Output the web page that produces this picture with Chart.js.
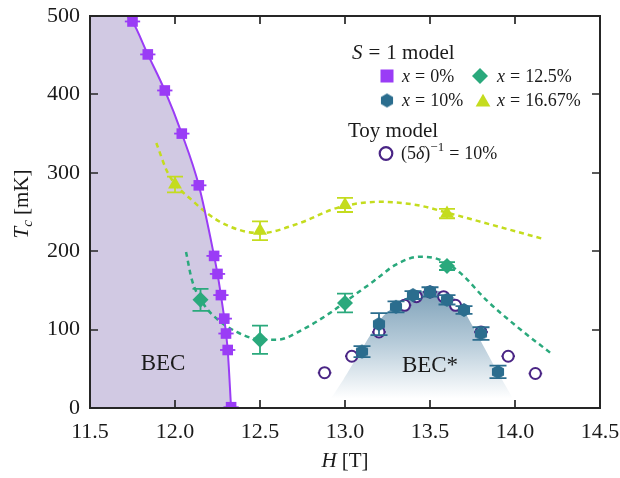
<!DOCTYPE html>
<html><head><meta charset="utf-8">
<script src="https://cdn.jsdelivr.net/npm/chart.js@4/dist/chart.umd.min.js"></script>
<style>html,body{margin:0;padding:0;background:#fff}canvas{display:block}</style>
</head><body>
<canvas id="c" width="620" height="478"></canvas>
<script>
// ---------- axes ----------
const xTicks = [11.5, 12.0, 12.5, 13.0, 13.5, 14.0, 14.5];
const xTickLabels = ['11.5', '12.0', '12.5', '13.0', '13.5', '14.0', '14.5'];
const yTicks = [0, 100, 200, 300, 400, 500];
const yTickLabels = ['0', '100', '200', '300', '400', '500'];

// ---------- S=1 model, x = 0% (squares) ----------
const sq0H = [11.75, 11.84, 11.94, 12.04, 12.14, 12.23, 12.25, 12.27, 12.29, 12.30, 12.31, 12.33];
const sq0T = [493, 451, 405, 350, 284, 194, 171, 144, 114, 95, 74, 1];
const sq0Herr = [0.045, 0.045, 0.045, 0.045, 0.045, 0.045, 0.045, 0.045, 0.045, 0.045, 0.045, 0.045];

// BEC phase boundary (solid purple line)
const becLineH = [11.72, 11.75, 11.84, 11.94, 12.04, 12.14, 12.23, 12.25, 12.27, 12.29, 12.30, 12.31, 12.33];
const becLineT = [500, 493, 451, 405, 350, 284, 194, 171, 144, 114, 95, 74, 0];

// ---------- x = 10% (hexagons) ----------
const hex10H = [13.1, 13.2, 13.3, 13.4, 13.5, 13.6, 13.7, 13.8, 13.9];
const hex10T = [72, 107, 129, 144, 148, 138, 125, 95, 46];
const hex10Err = [7, 14, 7, 5, 6, 6, 5, 8, 8];

// ---------- x = 12.5% (diamonds) ----------
const dia12H = [12.15, 12.5, 13.0, 13.6];
const dia12T = [138, 87, 134, 181];
const dia12Err = [14, 18, 12, 5];
const fit12H = [12.065, 12.1, 12.167, 12.245, 12.363, 12.48, 12.6, 12.75, 12.91, 13.03, 13.17, 13.3, 13.44, 13.56, 13.68, 13.83, 14.01, 14.21];
const fit12T = [199, 163, 133, 114, 97, 88, 87, 100, 121, 140, 162, 183, 193, 189, 172, 138, 104, 70];

// ---------- x = 16.67% (triangles) ----------
const tri16H = [12.0, 12.5, 13.0, 13.6];
const tri16T = [285, 226, 259, 248];
const tri16Err = [10, 12, 9, 6];
const fit16H = [11.89, 11.96, 12.11, 12.245, 12.38, 12.5, 12.735, 12.95, 13.2, 13.42, 13.62, 13.79, 14.16];
const fit16T = [338, 299, 263, 240, 227, 223, 236, 255, 263, 259, 248, 238, 216];

// ---------- Toy model (open circles) ----------
const toyH = [12.88, 13.04, 13.2, 13.35, 13.42, 13.5, 13.58, 13.65, 13.8, 13.96, 14.12];
const toyT = [45, 66, 97, 131, 142, 148, 142, 131, 97, 66, 44];
const toyHerr = [0.04, 0.04, 0.04, 0.04, 0.04, 0.04, 0.04, 0.04, 0.04, 0.04, 0.04];

// ---------- BEC* region outline ----------
const becStarH = [12.88, 12.99, 13.22, 13.37, 13.5, 13.63, 13.7, 13.89, 14.02];
const becStarT = [0, 36, 116, 142, 151, 143, 124, 49, 0];

// ---------- colours ----------
const C_PURPLE = '#9a3cf6';
const C_LAV = '#d1c9e3';
const C_GREEN = '#2aa97c';
const C_BLUE = '#2b6d8e';
const C_YG = '#c4dc1e';
const C_TOY = '#4a2585';
const SERIF = '"Liberation Serif", "DejaVu Serif", serif';

const pts = (H, T) => H.map((h, i) => ({x: h, y: T[i]}));

function makeHex(color, r) {
  const c = document.createElement('canvas');
  const s = Math.ceil(2 * r + 2);
  c.width = s; c.height = s;
  const g = c.getContext('2d');
  g.fillStyle = color;
  g.beginPath();
  for (let k = 0; k < 6; k++) {
    const a = Math.PI / 2 + k * Math.PI / 3;
    const px = s / 2 + r * Math.cos(a), py = s / 2 - r * Math.sin(a);
    k ? g.lineTo(px, py) : g.moveTo(px, py);
  }
  g.closePath(); g.fill();
  return c;
}
const hexImg = makeHex(C_BLUE, 7);

const errorBars = {
  id: 'errorBars',
  beforeDatasetDraw(chart, args) {
    const ds = chart.data.datasets[args.index];
    if (!ds.errY && !ds.errX) return;
    const ctx = chart.ctx, xs = chart.scales.x, ys = chart.scales.y, a = chart.chartArea;
    ctx.save();
    ctx.beginPath(); ctx.rect(a.left, a.top, a.right - a.left, a.bottom - a.top); ctx.clip();
    ctx.strokeStyle = ds.errColor; ctx.lineWidth = 1.8;
    ds.data.forEach((p, i) => {
      const px = xs.getPixelForValue(p.x), py = ys.getPixelForValue(p.y);
      ctx.beginPath();
      if (ds.errY) {
        const y1 = ys.getPixelForValue(p.y - ds.errY[i]), y2 = ys.getPixelForValue(p.y + ds.errY[i]);
        const cw = ds.capW || 0;
        ctx.moveTo(px, y1); ctx.lineTo(px, y2);
        ctx.moveTo(px - cw, y1); ctx.lineTo(px + cw, y1);
        ctx.moveTo(px - cw, y2); ctx.lineTo(px + cw, y2);
      }
      if (ds.errX) {
        const x1 = xs.getPixelForValue(p.x - ds.errX[i]), x2 = xs.getPixelForValue(p.x + ds.errX[i]);
        ctx.moveTo(x1, py); ctx.lineTo(x2, py);
      }
      ctx.stroke();
    });
    ctx.restore();
  }
};

function rich(ctx, x, y, parts) {
  let cx = x;
  parts.forEach(p => {
    ctx.font = p.f;
    cx += (p.pre || 0);
    ctx.fillText(p.t, cx, y + (p.dy || 0));
    cx += ctx.measureText(p.t).width;
  });
  return cx - x;
}
function richWidth(ctx, parts) {
  let w = 0;
  parts.forEach(p => { ctx.font = p.f; w += (p.pre || 0) + ctx.measureText(p.t).width; });
  return w;
}
const F = (sz, it) => (it ? 'italic ' : '') + sz + 'px ' + SERIF;

const decor = {
  id: 'decor',
  afterDraw(chart) {
    const ctx = chart.ctx, a = chart.chartArea, xs = chart.scales.x, ys = chart.scales.y;
    ctx.save();
    // frame
    ctx.strokeStyle = '#262626'; ctx.lineWidth = 2;
    ctx.strokeRect(a.left, a.top, a.right - a.left, a.bottom - a.top);
    // inward ticks on all sides
    ctx.lineWidth = 1.7;
    const tl = 8;
    ctx.beginPath();
    xTicks.forEach(v => {
      const p = Math.round(xs.getPixelForValue(v));
      ctx.moveTo(p, a.bottom); ctx.lineTo(p, a.bottom - tl);
      ctx.moveTo(p, a.top); ctx.lineTo(p, a.top + tl);
    });
    yTicks.forEach(v => {
      const p = Math.round(ys.getPixelForValue(v));
      ctx.moveTo(a.left, p); ctx.lineTo(a.left + tl, p);
      ctx.moveTo(a.right, p); ctx.lineTo(a.right - tl, p);
    });
    ctx.stroke();

    ctx.fillStyle = '#1a1a1a';
    ctx.textBaseline = 'alphabetic';
    // region labels
    ctx.font = F(23);
    ctx.textAlign = 'center';
    ctx.fillText('BEC', xs.getPixelForValue(11.93), ys.getPixelForValue(59) + 8);
    ctx.fillText('BEC*', xs.getPixelForValue(13.5), ys.getPixelForValue(56) + 8);
    ctx.textAlign = 'left';

    // axis titles
    const hx = [{t: 'H', f: F(21, true)}, {t: ' [T]', f: F(21)}];
    const hw = richWidth(ctx, hx);
    rich(ctx, (a.left + a.right) / 2 - hw / 2, 467, hx);
    ctx.save();
    ctx.translate(28, (a.top + a.bottom) / 2 - 8);
    ctx.rotate(-Math.PI / 2);
    const ty = [{t: 'T', f: F(21, true)}, {t: 'c', f: F(15, true), dy: 4}, {t: ' [mK]', f: F(21)}];
    const tw = richWidth(ctx, ty);
    rich(ctx, -tw / 2, 0, ty);
    ctx.restore();

    // legend
    const L = a.left, T = a.top;
    rich(ctx, L + 262, T + 43, [{t: 'S', f: F(21, true)}, {t: '=', f: F(21), pre: 6}, {t: '1 model', f: F(21), pre: 6}]);
    rich(ctx, L + 258, T + 121, [{t: 'Toy model', f: F(21)}]);
    const entry = (x, y, lab) => rich(ctx, x, y, [{t: 'x', f: F(18, true)}, {t: '=', f: F(18), pre: 5}, {t: lab, f: F(18), pre: 5}]);
    entry(L + 312, T + 66, '0%');
    entry(L + 407, T + 66, '12.5%');
    entry(L + 312, T + 90, '10%');
    entry(L + 407, T + 90, '16.67%');
    rich(ctx, L + 311, T + 143, [{t: '(5', f: F(18)}, {t: 'δ', f: F(18, true)}, {t: ')', f: F(18)},
      {t: '−1', f: F(13), dy: -8}, {t: '=', f: F(18), pre: 5}, {t: '10%', f: F(18), pre: 5}]);

    // legend markers
    ctx.fillStyle = C_PURPLE;
    ctx.fillRect(L + 297 - 6.5, T + 60 - 6.5, 13, 13);
    ctx.fillStyle = C_GREEN;
    ctx.beginPath();
    const dx = L + 390, dy = T + 60, dr = 8;
    ctx.moveTo(dx, dy - dr); ctx.lineTo(dx + dr, dy); ctx.lineTo(dx, dy + dr); ctx.lineTo(dx - dr, dy); ctx.closePath(); ctx.fill();
    ctx.drawImage(hexImg, L + 297 - hexImg.width / 2, T + 84.5 - hexImg.height / 2);
    ctx.fillStyle = C_YG;
    ctx.beginPath();
    const tx = L + 393, tyy = T + 84, tr = 8.5;
    ctx.moveTo(tx, tyy - tr * 0.75); ctx.lineTo(tx + tr * 0.866, tyy + tr * 0.75); ctx.lineTo(tx - tr * 0.866, tyy + tr * 0.75); ctx.closePath(); ctx.fill();
    ctx.strokeStyle = C_TOY; ctx.lineWidth = 2.2;
    ctx.beginPath(); ctx.arc(L + 296, T + 137.5, 6.3, 0, 2 * Math.PI); ctx.stroke();
    ctx.restore();
  }
};

const zeroPad = s => { s.paddingLeft = 0; s.paddingRight = 0; s.paddingTop = 0; s.paddingBottom = 0; };

const cfg = {
  type: 'scatter',
  data: {
    datasets: [
      { // BEC shaded region
        data: [{x: 11.5, y: 500}].concat(pts(becLineH, becLineT)),
        showLine: true, pointRadius: 0, borderWidth: 0, borderColor: 'rgba(0,0,0,0)',
        backgroundColor: C_LAV, fill: 'origin', cubicInterpolationMode: 'monotone', order: 20
      },
      { // BEC* shaded region
        data: pts(becStarH, becStarT),
        showLine: true, pointRadius: 0, borderWidth: 0, borderColor: 'rgba(0,0,0,0)',
        fill: 'origin', tension: 0.2, order: 19,
        backgroundColor: (c) => {
          const ch = c.chart; if (!ch.chartArea) return 'rgba(0,0,0,0)';
          const y = ch.scales.y;
          const g = ch.ctx.createLinearGradient(0, y.getPixelForValue(155), 0, y.getPixelForValue(12));
          g.addColorStop(0, 'rgba(122,158,182,1)');
          g.addColorStop(0.5, 'rgba(182,203,217,1)');
          g.addColorStop(1, 'rgba(255,255,255,1)');
          return g;
        }
      },
      { // x=16.67% fit
        data: pts(fit16H, fit16T), showLine: true, pointRadius: 0, borderColor: C_YG, borderWidth: 2.5,
        borderDash: [5, 4], cubicInterpolationMode: 'monotone', fill: false, order: 15
      },
      { // x=12.5% fit
        data: pts(fit12H, fit12T), showLine: true, pointRadius: 0, borderColor: C_GREEN, borderWidth: 2.5,
        borderDash: [5, 4], cubicInterpolationMode: 'monotone', fill: false, order: 14
      },
      { // BEC boundary line
        data: pts(becLineH, becLineT), showLine: true, pointRadius: 0, borderColor: C_PURPLE, borderWidth: 2,
        cubicInterpolationMode: 'monotone', fill: false, order: 13
      },
      { // x = 0% squares
        data: pts(sq0H, sq0T), pointStyle: 'rect', pointRadius: 7.5, borderWidth: 0,
        backgroundColor: C_PURPLE, borderColor: C_PURPLE, errX: sq0Herr, errColor: C_PURPLE, order: 5
      },
      { // x = 16.67% triangles
        data: pts(tri16H, tri16T), pointStyle: 'triangle', pointRadius: 8, borderWidth: 0,
        backgroundColor: C_YG, borderColor: C_YG, errY: tri16Err, capW: 8, errColor: C_YG, order: 6
      },
      { // x = 12.5% diamonds
        data: pts(dia12H, dia12T), pointStyle: 'rectRot', pointRadius: 8, borderWidth: 0,
        backgroundColor: C_GREEN, borderColor: C_GREEN, errY: dia12Err, capW: 8, errColor: C_GREEN, order: 7
      },
      { // toy model circles
        data: pts(toyH, toyT), pointStyle: 'circle', pointRadius: 5.5, borderWidth: 2,
        backgroundColor: '#ffffff', borderColor: C_TOY, errX: toyHerr, errColor: C_TOY, order: 9
      },
      { // x = 10% hexagons
        data: pts(hex10H, hex10T), pointStyle: hexImg, pointRadius: 7,
        backgroundColor: C_BLUE, borderColor: C_BLUE, errY: hex10Err, capW: 8.5, errColor: C_BLUE, order: 8
      }
    ]
  },
  options: {
    responsive: false, animation: false,
    layout: {padding: {left: 0, right: 20, top: 16, bottom: 0}},
    plugins: {legend: {display: false}, tooltip: {enabled: false}},
    scales: {
      x: {
        type: 'linear', min: 11.5, max: 14.5,
        afterBuildTicks: s => { s.ticks = xTicks.map(v => ({value: v})); },
        ticks: {callback: (v) => xTickLabels[xTicks.indexOf(v)], font: {family: SERIF, size: 22}, color: '#1a1a1a', padding: 11, maxRotation: 0, autoSkip: false},
        grid: {display: false, drawTicks: false}, border: {display: false},
        afterFit: s => { s.height = 70; zeroPad(s); }
      },
      y: {
        type: 'linear', min: 0, max: 500,
        afterBuildTicks: s => { s.ticks = yTicks.map(v => ({value: v})); },
        ticks: {callback: (v) => yTickLabels[yTicks.indexOf(v)], font: {family: SERIF, size: 22}, color: '#1a1a1a', padding: 10, autoSkip: false},
        grid: {display: false, drawTicks: false}, border: {display: false},
        afterFit: s => { s.width = 90; zeroPad(s); }
      }
    }
  },
  plugins: [errorBars, decor]
};
new Chart(document.getElementById('c'), cfg);
</script>
</body></html>
